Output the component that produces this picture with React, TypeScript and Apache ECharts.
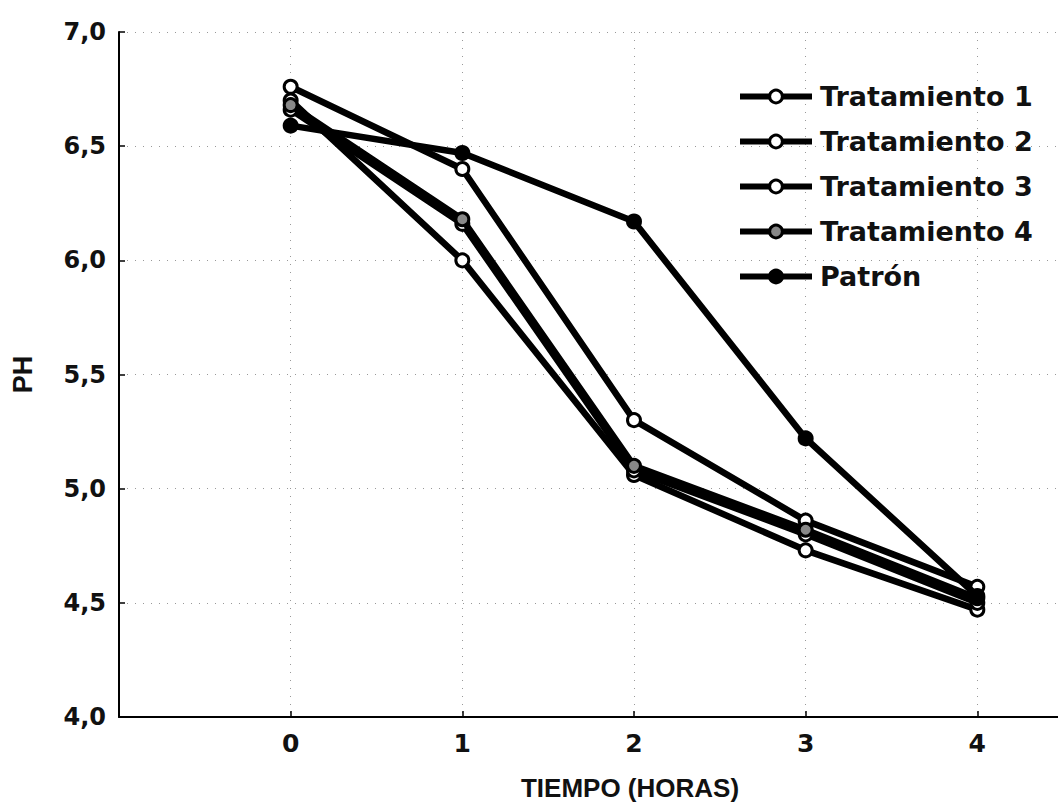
import React, { useEffect, useRef } from "react";
import * as echarts from "echarts";

const hours = [0, 1, 2, 3, 4];
const xTicks = ["0", "1", "2", "3", "4"];
const seriesNames = ["Tratamiento 1", "Tratamiento 2", "Tratamiento 3", "Tratamiento 4", "Patrón"];
const t1 = [6.76, 6.4, 5.3, 4.86, 4.57];
const t2 = [6.7, 6.0, 5.06, 4.73, 4.47];
const t3 = [6.66, 6.16, 5.08, 4.8, 4.5];
const t4 = [6.68, 6.18, 5.1, 4.82, 4.52];
const patron = [6.59, 6.47, 6.17, 5.22, 4.53];

const ARIAL = "'Liberation Sans', Arial, sans-serif";
const DEJAVU = "'DejaVu Sans', Verdana, sans-serif";

export default function App() {
  const ref = useRef<HTMLDivElement>(null);
  useEffect(() => {
    if (!ref.current) return;
    const chart = echarts.init(ref.current, null, { renderer: "svg" });
    const all = [t1, t2, t3, t4, patron];
    const fills = ["#fff", "#fff", "#fff", "#888", "#000"];
    chart.setOption({
      animation: false,
      backgroundColor: "#fff",
      grid: { left: 119, top: 32, bottom: 86, right: 0, containLabel: false },
      legend: {
        orient: "vertical",
        left: 732,
        top: 78,
        itemWidth: 72,
        itemHeight: 16,
        itemGap: 18,
        data: seriesNames,
        lineStyle: { width: 6, color: "#000" },
        itemStyle: { borderWidth: 3, borderColor: "#000" },
        textStyle: {
          fontFamily: DEJAVU,
          fontWeight: "bold",
          fontSize: 27,
          color: "#111",
          padding: [0, 0, 0, 3],
        },
      },
      xAxis: {
        type: "value",
        min: -1,
        max: 4.47,
        interval: 1,
        axisLine: { show: true, onZero: false, lineStyle: { color: "#000", width: 2 } },
        axisTick: { show: true, inside: true, length: 6, lineStyle: { color: "#000", width: 1.5 } },
        axisLabel: {
          margin: 14,
          fontFamily: DEJAVU,
          fontWeight: "bold",
          fontSize: 25,
          color: "#111",
          showMaxLabel: false,
          formatter: (v: number) => (v >= 0 && v <= 4 && Number.isInteger(v) ? xTicks[v] : ""),
        },
        splitLine: { show: true, lineStyle: { color: "#999", type: [1, 7], width: 1 } },
      },
      yAxis: {
        type: "value",
        min: 4,
        max: 7,
        interval: 0.5,
        name: "PH",
        nameLocation: "middle",
        nameGap: 83,
        nameTextStyle: { fontFamily: ARIAL, fontWeight: "bold", fontSize: 27, color: "#111" },
        axisLine: { show: true, onZero: false, lineStyle: { color: "#000", width: 2 } },
        axisTick: { show: true, inside: true, length: 6, lineStyle: { color: "#000", width: 1.5 } },
        axisLabel: {
          margin: 13,
          fontFamily: DEJAVU,
          fontWeight: "bold",
          fontSize: 24,
          color: "#111",
          formatter: (v: number) => v.toFixed(1).replace(".", ","),
        },
        splitLine: { show: true, lineStyle: { color: "#999", type: [1, 7], width: 1 } },
      },
      graphic: [
        {
          type: "text",
          x: 630,
          y: 788,
          style: {
            text: "TIEMPO (HORAS)",
            fontFamily: ARIAL,
            fontWeight: "bold",
            fontSize: 26,
            fill: "#111",
            align: "center",
            verticalAlign: "middle",
          },
        },
      ],
      series: seriesNames.map((name, i) => ({
        name,
        type: "line",
        data: hours.map((h, j) => [h, all[i][j]]),
        symbol: "circle",
        symbolSize: 13,
        showSymbol: true,
        lineStyle: { color: "#000", width: 6.5 },
        itemStyle: { color: fills[i], borderColor: "#000", borderWidth: 3 },
        z: 2 + i,
      })),
    });
    return () => chart.dispose();
  }, []);
  return (
    <div
      ref={ref}
      style={{ position: "absolute", left: 0, top: 0, width: 1058, height: 803 }}
    />
  );
}
